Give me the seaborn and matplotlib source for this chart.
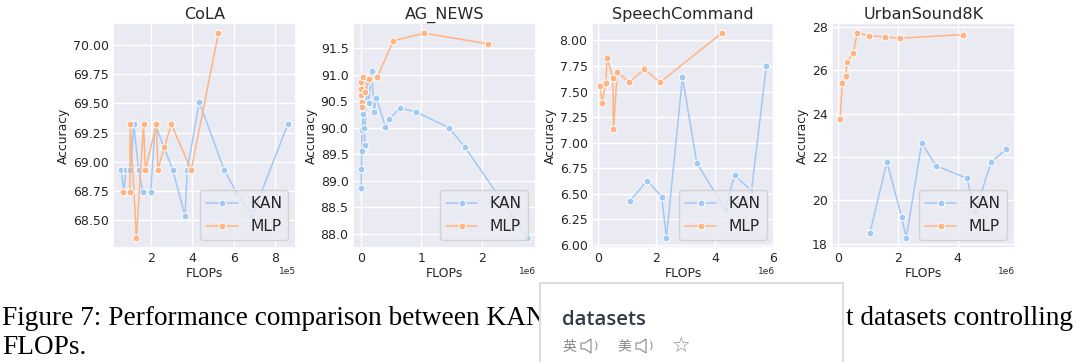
import matplotlib
matplotlib.use('Agg')
import matplotlib.pyplot as plt
from matplotlib.patches import Polygon, Rectangle
from matplotlib.ticker import MultipleLocator
import pandas as pd
import seaborn as sns

# values (FLOPs, Accuracy)
cola_kan_x = [0.58e5, 0.70e5, 0.80e5, 1.02e5, 1.18e5, 1.41e5, 1.62e5, 2.00e5, 2.21e5, 3.06e5, 3.65e5, 3.76e5, 4.34e5, 5.54e5, 6.13e5, 6.90e5, 8.60e5]
cola_kan_y = [68.93, 68.74, 68.93, 68.93, 69.32, 68.93, 68.74, 68.74, 69.32, 68.93, 68.54, 68.93, 69.51, 68.93, 68.74, 68.54, 69.32]
cola_mlp_x = [0.66e5, 0.99e5, 1.01e5, 1.31e5, 1.65e5, 1.74e5, 2.27e5, 2.34e5, 2.66e5, 2.99e5, 3.95e5, 5.26e5]
cola_mlp_y = [68.74, 68.74, 69.32, 68.35, 69.32, 68.93, 69.32, 68.93, 69.13, 69.32, 68.93, 70.10]

ag_kan_x = [0.004e6, 0.008e6, 0.012e6, 0.016e6, 0.033e6, 0.049e6, 0.06e6, 0.093e6, 0.126e6, 0.175e6, 0.219e6, 0.252e6, 0.405e6, 0.466e6, 0.642e6, 0.915e6, 1.458e6, 1.726e6, 2.756e6]
ag_kan_y = [88.86, 89.23, 89.57, 89.96, 90.26, 90.00, 89.67, 90.87, 90.46, 91.07, 90.29, 90.57, 90.02, 90.16, 90.37, 90.30, 90.00, 89.63, 87.93]
ag_mlp_x = [0.001e6, 0.003e6, 0.006e6, 0.012e6, 0.014e6, 0.027e6, 0.06e6, 0.137e6, 0.268e6, 0.537e6, 1.052e6, 2.104e6]
ag_mlp_y = [90.62, 90.73, 90.87, 90.49, 90.40, 90.96, 90.67, 90.91, 90.95, 91.64, 91.78, 91.58]

speech_kan_x = [1.09e6, 1.69e6, 2.18e6, 2.34e6, 2.89e6, 3.38e6, 4.35e6, 4.67e6, 5.25e6, 5.76e6]
speech_kan_y = [6.43, 6.63, 6.47, 6.07, 7.64, 6.80, 6.35, 6.68, 6.53, 7.75]
speech_mlp_x = [0.07e6, 0.14e6, 0.27e6, 0.31e6, 0.51e6, 0.53e6, 0.66e6, 1.07e6, 1.59e6, 2.12e6, 4.23e6]
speech_mlp_y = [7.555, 7.39, 7.58, 7.83, 7.635, 7.13, 7.69, 7.59, 7.72, 7.59, 8.07]

urban_kan_x = [1.06e6, 1.63e6, 2.12e6, 2.28e6, 2.80e6, 3.28e6, 4.31e6, 4.60e6, 5.13e6, 5.64e6]
urban_kan_y = [18.50, 21.78, 19.26, 18.28, 22.66, 21.60, 21.03, 19.50, 21.78, 22.36]
urban_mlp_x = [0.056e6, 0.133e6, 0.256e6, 0.289e6, 0.50e6, 0.633e6, 1.02e6, 1.56e6, 2.06e6, 4.17e6]
urban_mlp_y = [23.74, 25.41, 25.75, 26.39, 26.79, 27.71, 27.60, 27.54, 27.48, 27.65]

titles = ['CoLA', 'AG_NEWS', 'SpeechCommand', 'UrbanSound8K']
panels = [
    (cola_kan_x, cola_kan_y, cola_mlp_x, cola_mlp_y),
    (ag_kan_x, ag_kan_y, ag_mlp_x, ag_mlp_y),
    (speech_kan_x, speech_kan_y, speech_mlp_x, speech_mlp_y),
    (urban_kan_x, urban_kan_y, urban_mlp_x, urban_mlp_y),
]
x_steps = [2e5, 1e6, 2e6, 2e6]
axes_left = [113, 352.7, 591.7, 831.7]

W, H = 1080, 362
sns.set_theme(style='darkgrid', palette='pastel')
plt.rcParams['font.family'] = ['DejaVu Sans']
plt.rcParams['text.color'] = '.15'

fig = plt.figure(figsize=(W / 100, H / 100), dpi=100)

for title, (kx, ky, mx, my), left, step in zip(titles, panels, axes_left, x_steps):
    ax = fig.add_axes([left / W, 1 - 248 / H, 183 / W, 225 / H])
    df = pd.DataFrame({
        'FLOPs': kx + mx,
        'Accuracy': ky + my,
        'model': ['KAN'] * len(kx) + ['MLP'] * len(mx),
    })
    sns.lineplot(data=df, x='FLOPs', y='Accuracy', hue='model', marker='o',
                 markersize=5, linewidth=1.1, errorbar=None, ax=ax)
    ax.set_title(title, fontsize=11.5, pad=3)
    ax.set_xlabel('FLOPs', fontsize=9, labelpad=1.5)
    ax.set_ylabel('Accuracy', fontsize=8.9, labelpad=2)
    ax.tick_params(labelsize=9, pad=3, length=0)
    ax.xaxis.set_major_locator(MultipleLocator(step))
    ax.ticklabel_format(axis='x', style='sci', scilimits=(0, 0))
    ax.xaxis.get_offset_text().set_fontsize(6.5)
    ax.xaxis.OFFSETTEXTPAD = 1
    ax.legend(title=None, loc='lower right', fontsize=11.2)

# caption, partly hidden by the dictionary popup
caption_font = ['Liberation Serif', 'DejaVu Serif']
fig.text(2 / W, 1 - 325 / H, 'Figure 7: Performance comparison between KAN', family=caption_font,
         fontsize=19.65, color='black', ha='left', va='baseline')
fig.text(1073 / W, 1 - 325 / H, 't datasets controlling', family=caption_font,
         fontsize=19.65, color='black', ha='right', va='baseline')
fig.text(2 / W, 1 - 354 / H, 'FLOPs.', family=caption_font,
         fontsize=19.65, color='black', ha='left', va='baseline')

# popup box
fig.add_artist(Rectangle((540 / W, -0.02), 303 / W, 1 - 283 / H + 0.02, transform=fig.transFigure,
                         facecolor='white', edgecolor='#dddddd', linewidth=1.5, zorder=5))
fig.text(562 / W, 1 - 325 / H, 'datasets', family='Open Sans', fontweight='semibold', fontsize=14.7,
         color='#333a44', zorder=6)
popup_font = ['Noto Sans CJK SC', 'DejaVu Sans']
fig.text(562 / W, 1 - 351 / H, '英', family=popup_font, fontsize=10, color='#888888', zorder=6)
fig.text(617 / W, 1 - 351 / H, '美', family=popup_font, fontsize=10, color='#888888', zorder=6)
fig.text(681 / W, 1 - 352 / H, '☆', family='DejaVu Sans', fontsize=15, color='#888888', ha='center', zorder=6)


def speaker(x, y):
    pts = [(x, y - 3), (x + 4, y - 3), (x + 10, y - 7), (x + 10, y + 7), (x + 4, y + 3), (x, y + 3)]
    pts = [(px / W, 1 - py / H) for px, py in pts]
    fig.add_artist(Polygon(pts, closed=True, transform=fig.transFigure, facecolor='white',
                           edgecolor='#888888', linewidth=0.8, zorder=6))
    fig.text((x + 12) / W, 1 - y / H, ')', fontsize=8, color='#888888', va='center', zorder=6)


speaker(581, 346)
speaker(636, 346)

fig.savefig('out.png', dpi=100)
